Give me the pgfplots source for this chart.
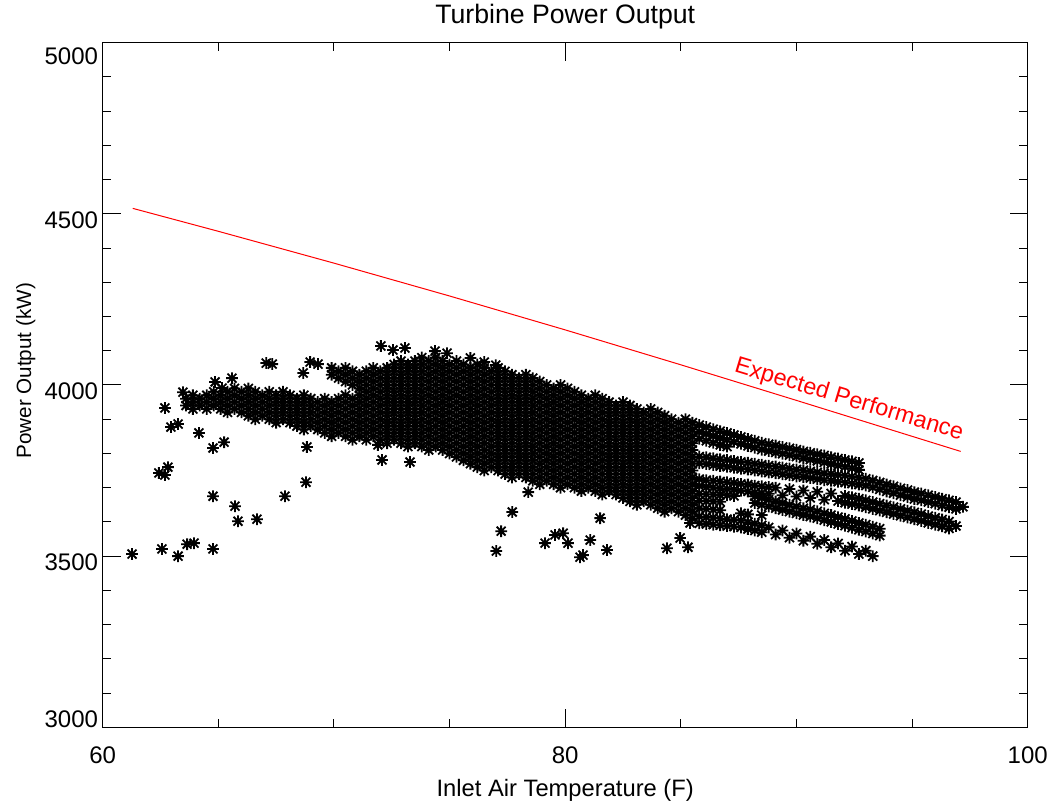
\documentclass[border=0pt]{standalone}
\usepackage{pgfplots}
\pgfplotsset{compat=1.18}
\usepackage{fontspec}
\setmainfont{Liberation Sans}
\pgfdeclareplotmark{idlstar}{%
  \pgfpathmoveto{\pgfqpoint{0pt}{\pgfplotmarksize}}%
  \pgfpathlineto{\pgfqpoint{0pt}{-\pgfplotmarksize}}%
  \pgfpathmoveto{\pgfqpoint{\pgfplotmarksize}{0pt}}%
  \pgfpathlineto{\pgfqpoint{-\pgfplotmarksize}{0pt}}%
  \pgfpathmoveto{\pgfqpoint{0.76\pgfplotmarksize}{0.76\pgfplotmarksize}}%
  \pgfpathlineto{\pgfqpoint{-0.76\pgfplotmarksize}{-0.76\pgfplotmarksize}}%
  \pgfpathmoveto{\pgfqpoint{-0.76\pgfplotmarksize}{0.76\pgfplotmarksize}}%
  \pgfpathlineto{\pgfqpoint{0.76\pgfplotmarksize}{-0.76\pgfplotmarksize}}%
  \pgfusepathqstroke}
\pgfplotsset{idl/.style={only marks, mark=idlstar, mark size=4.4pt, mark options={line width=1.35pt, draw=black}}}
\begin{document}
\begin{tikzpicture}
\useasboundingbox (-77.03pt,-59.03pt) rectangle (713.48pt,545.48pt);
\begin{axis}[
  at={(0pt,0pt)}, anchor=south west,
  scale only axis, width=693.75pt, height=513.45pt,
  xmin=60, xmax=100, ymin=3000, ymax=5000,
  xtick={60,80,100}, xticklabels={60,80,100},
  minor xtick={65,70,75,85,90,95},
  ytick={3000,3500,4000,4500,5000},
  yticklabels={{\raisebox{0pt}[0pt][0pt]{3000}},{\raisebox{-10.7pt}[0pt][0pt]{3500}},{\raisebox{-10.7pt}[0pt][0pt]{4000}},{\raisebox{-10.7pt}[0pt][0pt]{4500}},{\raisebox{-16.7pt}[0pt][0pt]{5000}}},
  minor ytick={3100,3200,3300,3400,3600,3700,3800,3900,4100,4200,4300,4400,4600,4700,4800,4900},
  tick pos=both, ticklabel pos=left, tick align=inside,
  major tick length=13.5pt, minor tick length=6.5pt,
  every tick/.append style={black, line width=0.75pt},
  every minor tick/.append style={black, line width=0.75pt},
  axis line style={black, line width=0.75pt},
  ticklabel style={font=\fontsize{18}{20}\selectfont},
  xticklabel style={anchor=north, inner sep=0pt, yshift=-14.5pt},
  yticklabel style={anchor=east, inner sep=0pt, xshift=-3.3pt},
  title={Turbine Power Output},
  title style={at={(axis description cs:0.5,1.016)}, anchor=base, inner sep=0pt, font=\fontsize{20}{24}\selectfont},
  xlabel={Inlet Air Temperature (F)},
  xlabel style={at={(axis description cs:0.5,-0.1013)}, anchor=base, inner sep=0pt, font=\fontsize{17.8}{20}\selectfont},
  ylabel={Power Output (kW)},
  ylabel style={at={(axis description cs:-0.0775,0.5207)}, anchor=base, inner sep=0pt, font=\fontsize{15.5}{18}\selectfont},
]
% main dense cloud
\addplot[idl] table[row sep=\\] {
x y\\
63.6 3960\\ 63.6 3940\\
63.9 3970\\ 63.9 3950\\ 63.9 3930\\
64.2 3960\\ 64.2 3940\\
64.5 3970\\ 64.5 3950\\ 64.5 3930\\
64.8 3980\\ 64.8 3960\\ 64.8 3940\\
65.1 3970\\ 65.1 3950\\ 65.1 3930\\
65.4 3980\\ 65.4 3960\\ 65.4 3940\\ 65.4 3920\\
65.7 3990\\ 65.7 3970\\ 65.7 3950\\ 65.7 3930\\
66.0 3980\\ 66.0 3960\\ 66.0 3940\\ 66.0 3920\\
66.3 3990\\ 66.3 3970\\ 66.3 3950\\ 66.3 3930\\ 66.3 3910\\
66.6 3980\\ 66.6 3960\\ 66.6 3940\\ 66.6 3920\\ 66.6 3900\\
66.9 3970\\ 66.9 3950\\ 66.9 3930\\ 66.9 3910\\
67.2 3980\\ 67.2 3960\\ 67.2 3940\\ 67.2 3920\\ 67.2 3900\\
67.5 3970\\ 67.5 3950\\ 67.5 3930\\ 67.5 3910\\ 67.5 3890\\
67.8 3980\\ 67.8 3960\\ 67.8 3940\\ 67.8 3920\\ 67.8 3900\\
68.1 3970\\ 68.1 3950\\ 68.1 3930\\ 68.1 3910\\ 68.1 3890\\
68.4 3960\\ 68.4 3940\\ 68.4 3920\\ 68.4 3900\\ 68.4 3880\\
68.7 3970\\ 68.7 3950\\ 68.7 3930\\ 68.7 3910\\ 68.7 3890\\ 68.7 3870\\
69.0 3960\\ 69.0 3940\\ 69.0 3920\\ 69.0 3900\\ 69.0 3880\\
69.3 3950\\ 69.3 3930\\ 69.3 3910\\ 69.3 3890\\ 69.3 3870\\
69.6 3960\\ 69.6 3940\\ 69.6 3920\\ 69.6 3900\\ 69.6 3880\\ 69.6 3860\\
69.9 4050\\ 69.9 4030\\ 69.9 3950\\ 69.9 3930\\ 69.9 3910\\ 69.9 3890\\ 69.9 3870\\ 69.9 3850\\
70.2 4040\\ 70.2 4020\\ 70.2 3960\\ 70.2 3940\\ 70.2 3920\\ 70.2 3900\\ 70.2 3880\\ 70.2 3860\\
70.5 4050\\ 70.5 4030\\ 70.5 4010\\ 70.5 3970\\ 70.5 3950\\ 70.5 3930\\ 70.5 3910\\ 70.5 3890\\ 70.5 3870\\ 70.5 3850\\
70.8 4040\\ 70.8 4020\\ 70.8 4000\\ 70.8 3960\\ 70.8 3940\\ 70.8 3920\\ 70.8 3900\\ 70.8 3880\\ 70.8 3860\\ 70.8 3840\\
71.1 4030\\ 71.1 4010\\ 71.1 3990\\ 71.1 3970\\ 71.1 3950\\ 71.1 3930\\ 71.1 3910\\ 71.1 3890\\ 71.1 3870\\ 71.1 3850\\
71.4 4040\\ 71.4 4020\\ 71.4 4000\\ 71.4 3980\\ 71.4 3960\\ 71.4 3940\\ 71.4 3920\\ 71.4 3900\\ 71.4 3880\\ 71.4 3860\\ 71.4 3840\\
71.7 4050\\ 71.7 4030\\ 71.7 4010\\ 71.7 3990\\ 71.7 3970\\ 71.7 3950\\ 71.7 3930\\ 71.7 3910\\ 71.7 3890\\ 71.7 3870\\ 71.7 3850\\
72.0 4040\\ 72.0 4020\\ 72.0 4000\\ 72.0 3980\\ 72.0 3960\\ 72.0 3940\\ 72.0 3920\\ 72.0 3900\\ 72.0 3880\\ 72.0 3860\\ 72.0 3840\\
72.3 4050\\ 72.3 4030\\ 72.3 4010\\ 72.3 3990\\ 72.3 3970\\ 72.3 3950\\ 72.3 3930\\ 72.3 3910\\ 72.3 3890\\ 72.3 3870\\ 72.3 3850\\ 72.3 3830\\
72.6 4060\\ 72.6 4040\\ 72.6 4020\\ 72.6 4000\\ 72.6 3980\\ 72.6 3960\\ 72.6 3940\\ 72.6 3920\\ 72.6 3900\\ 72.6 3880\\ 72.6 3860\\ 72.6 3840\\
72.9 4070\\ 72.9 4050\\ 72.9 4030\\ 72.9 4010\\ 72.9 3990\\ 72.9 3970\\ 72.9 3950\\ 72.9 3930\\ 72.9 3910\\ 72.9 3890\\ 72.9 3870\\ 72.9 3850\\ 72.9 3830\\
73.2 4060\\ 73.2 4040\\ 73.2 4020\\ 73.2 4000\\ 73.2 3980\\ 73.2 3960\\ 73.2 3940\\ 73.2 3920\\ 73.2 3900\\ 73.2 3880\\ 73.2 3860\\ 73.2 3840\\ 73.2 3820\\
73.5 4070\\ 73.5 4050\\ 73.5 4030\\ 73.5 4010\\ 73.5 3990\\ 73.5 3970\\ 73.5 3950\\ 73.5 3930\\ 73.5 3910\\ 73.5 3890\\ 73.5 3870\\ 73.5 3850\\ 73.5 3830\\
73.8 4080\\ 73.8 4060\\ 73.8 4040\\ 73.8 4020\\ 73.8 4000\\ 73.8 3980\\ 73.8 3960\\ 73.8 3940\\ 73.8 3920\\ 73.8 3900\\ 73.8 3880\\ 73.8 3860\\ 73.8 3840\\ 73.8 3820\\
74.1 4070\\ 74.1 4050\\ 74.1 4030\\ 74.1 4010\\ 74.1 3990\\ 74.1 3970\\ 74.1 3950\\ 74.1 3930\\ 74.1 3910\\ 74.1 3890\\ 74.1 3870\\ 74.1 3850\\ 74.1 3830\\ 74.1 3810\\
74.4 4080\\ 74.4 4060\\ 74.4 4040\\ 74.4 4020\\ 74.4 4000\\ 74.4 3980\\ 74.4 3960\\ 74.4 3940\\ 74.4 3920\\ 74.4 3900\\ 74.4 3880\\ 74.4 3860\\ 74.4 3840\\ 74.4 3820\\
74.7 4070\\ 74.7 4050\\ 74.7 4030\\ 74.7 4010\\ 74.7 3990\\ 74.7 3970\\ 74.7 3950\\ 74.7 3930\\ 74.7 3910\\ 74.7 3890\\ 74.7 3870\\ 74.7 3850\\ 74.7 3830\\ 74.7 3810\\
75.0 4060\\ 75.0 4040\\ 75.0 4020\\ 75.0 4000\\ 75.0 3980\\ 75.0 3960\\ 75.0 3940\\ 75.0 3920\\ 75.0 3900\\ 75.0 3880\\ 75.0 3860\\ 75.0 3840\\ 75.0 3820\\ 75.0 3800\\
75.3 4070\\ 75.3 4050\\ 75.3 4030\\ 75.3 4010\\ 75.3 3990\\ 75.3 3970\\ 75.3 3950\\ 75.3 3930\\ 75.3 3910\\ 75.3 3890\\ 75.3 3870\\ 75.3 3850\\ 75.3 3830\\ 75.3 3810\\ 75.3 3790\\
75.6 4060\\ 75.6 4040\\ 75.6 4020\\ 75.6 4000\\ 75.6 3980\\ 75.6 3960\\ 75.6 3940\\ 75.6 3920\\ 75.6 3900\\ 75.6 3880\\ 75.6 3860\\ 75.6 3840\\ 75.6 3820\\ 75.6 3800\\ 75.6 3780\\
75.9 4050\\ 75.9 4030\\ 75.9 4010\\ 75.9 3990\\ 75.9 3970\\ 75.9 3950\\ 75.9 3930\\ 75.9 3910\\ 75.9 3890\\ 75.9 3870\\ 75.9 3850\\ 75.9 3830\\ 75.9 3810\\ 75.9 3790\\ 75.9 3770\\
76.2 4060\\ 76.2 4040\\ 76.2 4020\\ 76.2 4000\\ 76.2 3980\\ 76.2 3960\\ 76.2 3940\\ 76.2 3920\\ 76.2 3900\\ 76.2 3880\\ 76.2 3860\\ 76.2 3840\\ 76.2 3820\\ 76.2 3800\\ 76.2 3780\\ 76.2 3760\\
76.5 4050\\ 76.5 4030\\ 76.5 4010\\ 76.5 3990\\ 76.5 3970\\ 76.5 3950\\ 76.5 3930\\ 76.5 3910\\ 76.5 3890\\ 76.5 3870\\ 76.5 3850\\ 76.5 3830\\ 76.5 3810\\ 76.5 3790\\ 76.5 3770\\ 76.5 3750\\
76.8 4040\\ 76.8 4020\\ 76.8 4000\\ 76.8 3980\\ 76.8 3960\\ 76.8 3940\\ 76.8 3920\\ 76.8 3900\\ 76.8 3880\\ 76.8 3860\\ 76.8 3840\\ 76.8 3820\\ 76.8 3800\\ 76.8 3780\\ 76.8 3760\\
77.1 4050\\ 77.1 4030\\ 77.1 4010\\ 77.1 3990\\ 77.1 3970\\ 77.1 3950\\ 77.1 3930\\ 77.1 3910\\ 77.1 3890\\ 77.1 3870\\ 77.1 3850\\ 77.1 3830\\ 77.1 3810\\ 77.1 3790\\ 77.1 3770\\ 77.1 3750\\
77.4 4040\\ 77.4 4020\\ 77.4 4000\\ 77.4 3980\\ 77.4 3960\\ 77.4 3940\\ 77.4 3920\\ 77.4 3900\\ 77.4 3880\\ 77.4 3860\\ 77.4 3840\\ 77.4 3820\\ 77.4 3800\\ 77.4 3780\\ 77.4 3760\\ 77.4 3740\\
77.7 4030\\ 77.7 4010\\ 77.7 3990\\ 77.7 3970\\ 77.7 3950\\ 77.7 3930\\ 77.7 3910\\ 77.7 3890\\ 77.7 3870\\ 77.7 3850\\ 77.7 3830\\ 77.7 3810\\ 77.7 3790\\ 77.7 3770\\ 77.7 3750\\ 77.7 3730\\
78.0 4020\\ 78.0 4000\\ 78.0 3980\\ 78.0 3960\\ 78.0 3940\\ 78.0 3920\\ 78.0 3900\\ 78.0 3880\\ 78.0 3860\\ 78.0 3840\\ 78.0 3820\\ 78.0 3800\\ 78.0 3780\\ 78.0 3760\\ 78.0 3740\\
78.3 4030\\ 78.3 4010\\ 78.3 3990\\ 78.3 3970\\ 78.3 3950\\ 78.3 3930\\ 78.3 3910\\ 78.3 3890\\ 78.3 3870\\ 78.3 3850\\ 78.3 3830\\ 78.3 3810\\ 78.3 3790\\ 78.3 3770\\ 78.3 3750\\ 78.3 3730\\
78.6 4020\\ 78.6 4000\\ 78.6 3980\\ 78.6 3960\\ 78.6 3940\\ 78.6 3920\\ 78.6 3900\\ 78.6 3880\\ 78.6 3860\\ 78.6 3840\\ 78.6 3820\\ 78.6 3800\\ 78.6 3780\\ 78.6 3760\\ 78.6 3740\\ 78.6 3720\\
78.9 4010\\ 78.9 3990\\ 78.9 3970\\ 78.9 3950\\ 78.9 3930\\ 78.9 3910\\ 78.9 3890\\ 78.9 3870\\ 78.9 3850\\ 78.9 3830\\ 78.9 3810\\ 78.9 3790\\ 78.9 3770\\ 78.9 3750\\ 78.9 3730\\ 78.9 3710\\
79.2 4000\\ 79.2 3980\\ 79.2 3960\\ 79.2 3940\\ 79.2 3920\\ 79.2 3900\\ 79.2 3880\\ 79.2 3860\\ 79.2 3840\\ 79.2 3820\\ 79.2 3800\\ 79.2 3780\\ 79.2 3760\\ 79.2 3740\\ 79.2 3720\\
79.5 3990\\ 79.5 3970\\ 79.5 3950\\ 79.5 3930\\ 79.5 3910\\ 79.5 3890\\ 79.5 3870\\ 79.5 3850\\ 79.5 3830\\ 79.5 3810\\ 79.5 3790\\ 79.5 3770\\ 79.5 3750\\ 79.5 3730\\ 79.5 3710\\
79.8 4000\\ 79.8 3980\\ 79.8 3960\\ 79.8 3940\\ 79.8 3920\\ 79.8 3900\\ 79.8 3880\\ 79.8 3860\\ 79.8 3840\\ 79.8 3820\\ 79.8 3800\\ 79.8 3780\\ 79.8 3760\\ 79.8 3740\\ 79.8 3720\\ 79.8 3700\\
80.1 3990\\ 80.1 3970\\ 80.1 3950\\ 80.1 3930\\ 80.1 3910\\ 80.1 3890\\ 80.1 3870\\ 80.1 3850\\ 80.1 3830\\ 80.1 3810\\ 80.1 3790\\ 80.1 3770\\ 80.1 3750\\ 80.1 3730\\ 80.1 3710\\
80.4 3980\\ 80.4 3960\\ 80.4 3940\\ 80.4 3920\\ 80.4 3900\\ 80.4 3880\\ 80.4 3860\\ 80.4 3840\\ 80.4 3820\\ 80.4 3800\\ 80.4 3780\\ 80.4 3760\\ 80.4 3740\\ 80.4 3720\\ 80.4 3700\\
80.7 3970\\ 80.7 3950\\ 80.7 3930\\ 80.7 3910\\ 80.7 3890\\ 80.7 3870\\ 80.7 3850\\ 80.7 3830\\ 80.7 3810\\ 80.7 3790\\ 80.7 3770\\ 80.7 3750\\ 80.7 3730\\ 80.7 3710\\ 80.7 3690\\
81.0 3960\\ 81.0 3940\\ 81.0 3920\\ 81.0 3900\\ 81.0 3880\\ 81.0 3860\\ 81.0 3840\\ 81.0 3820\\ 81.0 3800\\ 81.0 3780\\ 81.0 3760\\ 81.0 3740\\ 81.0 3720\\ 81.0 3700\\
81.3 3970\\ 81.3 3950\\ 81.3 3930\\ 81.3 3910\\ 81.3 3890\\ 81.3 3870\\ 81.3 3850\\ 81.3 3830\\ 81.3 3810\\ 81.3 3790\\ 81.3 3770\\ 81.3 3750\\ 81.3 3730\\ 81.3 3710\\ 81.3 3690\\
81.6 3960\\ 81.6 3940\\ 81.6 3920\\ 81.6 3900\\ 81.6 3880\\ 81.6 3860\\ 81.6 3840\\ 81.6 3820\\ 81.6 3800\\ 81.6 3780\\ 81.6 3760\\ 81.6 3740\\ 81.6 3720\\ 81.6 3700\\ 81.6 3680\\
81.9 3950\\ 81.9 3930\\ 81.9 3910\\ 81.9 3890\\ 81.9 3870\\ 81.9 3850\\ 81.9 3830\\ 81.9 3810\\ 81.9 3790\\ 81.9 3770\\ 81.9 3750\\ 81.9 3730\\ 81.9 3710\\ 81.9 3690\\
82.2 3940\\ 82.2 3920\\ 82.2 3900\\ 82.2 3880\\ 82.2 3860\\ 82.2 3840\\ 82.2 3820\\ 82.2 3800\\ 82.2 3780\\ 82.2 3760\\ 82.2 3740\\ 82.2 3720\\ 82.2 3700\\ 82.2 3680\\
82.5 3950\\ 82.5 3930\\ 82.5 3910\\ 82.5 3890\\ 82.5 3870\\ 82.5 3850\\ 82.5 3830\\ 82.5 3810\\ 82.5 3790\\ 82.5 3770\\ 82.5 3750\\ 82.5 3730\\ 82.5 3710\\ 82.5 3690\\ 82.5 3670\\
82.8 3940\\ 82.8 3920\\ 82.8 3900\\ 82.8 3880\\ 82.8 3860\\ 82.8 3840\\ 82.8 3820\\ 82.8 3800\\ 82.8 3780\\ 82.8 3760\\ 82.8 3740\\ 82.8 3720\\ 82.8 3700\\ 82.8 3680\\ 82.8 3660\\
83.1 3930\\ 83.1 3910\\ 83.1 3890\\ 83.1 3870\\ 83.1 3850\\ 83.1 3830\\ 83.1 3810\\ 83.1 3790\\ 83.1 3770\\ 83.1 3750\\ 83.1 3730\\ 83.1 3710\\ 83.1 3690\\ 83.1 3670\\ 83.1 3650\\
83.4 3920\\ 83.4 3900\\ 83.4 3880\\ 83.4 3860\\ 83.4 3840\\ 83.4 3820\\ 83.4 3800\\ 83.4 3780\\ 83.4 3760\\ 83.4 3740\\ 83.4 3720\\ 83.4 3700\\ 83.4 3680\\ 83.4 3660\\
83.7 3930\\ 83.7 3910\\ 83.7 3890\\ 83.7 3870\\ 83.7 3850\\ 83.7 3830\\ 83.7 3810\\ 83.7 3790\\ 83.7 3770\\ 83.7 3750\\ 83.7 3730\\ 83.7 3710\\ 83.7 3690\\ 83.7 3670\\ 83.7 3650\\
84.0 3920\\ 84.0 3900\\ 84.0 3880\\ 84.0 3860\\ 84.0 3840\\ 84.0 3820\\ 84.0 3800\\ 84.0 3780\\ 84.0 3760\\ 84.0 3740\\ 84.0 3720\\ 84.0 3700\\ 84.0 3680\\ 84.0 3660\\ 84.0 3640\\
84.3 3910\\ 84.3 3890\\ 84.3 3870\\ 84.3 3850\\ 84.3 3830\\ 84.3 3810\\ 84.3 3790\\ 84.3 3770\\ 84.3 3750\\ 84.3 3730\\ 84.3 3710\\ 84.3 3690\\ 84.3 3670\\ 84.3 3650\\ 84.3 3630\\
84.6 3900\\ 84.6 3880\\ 84.6 3860\\ 84.6 3840\\ 84.6 3820\\ 84.6 3800\\ 84.6 3780\\ 84.6 3760\\ 84.6 3740\\ 84.6 3720\\ 84.6 3700\\ 84.6 3680\\ 84.6 3660\\ 84.6 3640\\
84.9 3890\\ 84.9 3870\\ 84.9 3850\\ 84.9 3830\\ 84.9 3810\\ 84.9 3790\\ 84.9 3770\\ 84.9 3750\\ 84.9 3730\\ 84.9 3710\\ 84.9 3690\\ 84.9 3670\\ 84.9 3650\\ 84.9 3630\\
85.2 3900\\ 85.2 3880\\ 85.2 3860\\ 85.2 3840\\ 85.2 3820\\ 85.2 3800\\ 85.2 3780\\ 85.2 3760\\ 85.2 3740\\ 85.2 3720\\ 85.2 3700\\ 85.2 3680\\ 85.2 3660\\ 85.2 3640\\ 85.2 3620\\
85.5 3890\\ 85.5 3870\\ 85.5 3850\\ 85.5 3830\\ 85.5 3810\\ 85.5 3790\\ 85.5 3770\\ 85.5 3750\\ 85.5 3730\\ 85.5 3710\\ 85.5 3690\\ 85.5 3670\\ 85.5 3650\\ 85.5 3630\\ 85.5 3610\\
};
% right-hand streaks
\addplot[idl] table[row sep=\\] {
x y\\
85.8 3883\\ 85.8 3863\\ 85.8 3843\\ 85.8 3791\\ 85.8 3771\\ 85.8 3725\\ 85.8 3705\\ 85.8 3682\\ 85.8 3662\\ 85.8 3640\\ 85.8 3616\\ 85.8 3596\\
86.1 3877\\ 86.1 3857\\ 86.1 3837\\ 86.1 3789\\ 86.1 3769\\ 86.1 3722\\ 86.1 3702\\ 86.1 3681\\ 86.1 3661\\ 86.1 3638\\ 86.1 3614\\ 86.1 3594\\
86.4 3871\\ 86.4 3851\\ 86.4 3831\\ 86.4 3786\\ 86.4 3766\\ 86.4 3720\\ 86.4 3700\\ 86.4 3680\\ 86.4 3660\\ 86.4 3636\\ 86.4 3612\\ 86.4 3592\\
86.7 3865\\ 86.7 3845\\ 86.7 3825\\ 86.7 3783\\ 86.7 3763\\ 86.7 3718\\ 86.7 3698\\ 86.7 3679\\ 86.7 3659\\ 86.7 3634\\ 86.7 3610\\ 86.7 3590\\
87.0 3860\\ 87.0 3840\\ 87.0 3820\\ 87.0 3781\\ 87.0 3761\\ 87.0 3716\\ 87.0 3696\\ 87.0 3678\\ 87.0 3608\\ 87.0 3588\\
87.3 3854\\ 87.3 3834\\ 87.3 3778\\ 87.3 3758\\ 87.3 3714\\ 87.3 3694\\ 87.3 3676\\ 87.3 3606\\ 87.3 3586\\
87.6 3848\\ 87.6 3828\\ 87.6 3775\\ 87.6 3755\\ 87.6 3711\\ 87.6 3691\\ 87.6 3625\\ 87.6 3604\\ 87.6 3584\\
87.9 3842\\ 87.9 3822\\ 87.9 3773\\ 87.9 3753\\ 87.9 3709\\ 87.9 3689\\ 87.9 3622\\ 87.9 3599\\ 87.9 3579\\
88.2 3837\\ 88.2 3817\\ 88.2 3770\\ 88.2 3750\\ 88.2 3706\\ 88.2 3686\\ 88.2 3675\\ 88.2 3655\\ 88.2 3595\\ 88.2 3575\\
88.5 3831\\ 88.5 3811\\ 88.5 3767\\ 88.5 3747\\ 88.5 3704\\ 88.5 3684\\ 88.5 3670\\ 88.5 3650\\ 88.5 3620\\ 88.5 3590\\ 88.5 3570\\
88.8 3827\\ 88.8 3807\\ 88.8 3764\\ 88.8 3744\\ 88.8 3702\\ 88.8 3682\\ 88.8 3665\\ 88.8 3645\\ 88.8 3584\\
89.1 3823\\ 89.1 3803\\ 89.1 3762\\ 89.1 3742\\ 89.1 3700\\ 89.1 3660\\ 89.1 3640\\ 89.1 3563\\
89.4 3819\\ 89.4 3799\\ 89.4 3759\\ 89.4 3739\\ 89.4 3678\\ 89.4 3655\\ 89.4 3635\\ 89.4 3575\\
89.7 3815\\ 89.7 3795\\ 89.7 3756\\ 89.7 3736\\ 89.7 3696\\ 89.7 3650\\ 89.7 3630\\ 89.7 3554\\
90.0 3811\\ 90.0 3791\\ 90.0 3753\\ 90.0 3733\\ 90.0 3674\\ 90.0 3645\\ 90.0 3625\\ 90.0 3566\\
90.3 3806\\ 90.3 3786\\ 90.3 3751\\ 90.3 3731\\ 90.3 3692\\ 90.3 3640\\ 90.3 3620\\ 90.3 3545\\
90.6 3802\\ 90.6 3782\\ 90.6 3748\\ 90.6 3728\\ 90.6 3670\\ 90.6 3636\\ 90.6 3616\\ 90.6 3557\\
90.9 3798\\ 90.9 3778\\ 90.9 3745\\ 90.9 3725\\ 90.9 3688\\ 90.9 3631\\ 90.9 3611\\ 90.9 3536\\
91.2 3794\\ 91.2 3774\\ 91.2 3742\\ 91.2 3722\\ 91.2 3665\\ 91.2 3625\\ 91.2 3605\\ 91.2 3547\\
91.5 3789\\ 91.5 3769\\ 91.5 3740\\ 91.5 3720\\ 91.5 3683\\ 91.5 3620\\ 91.5 3600\\ 91.5 3526\\
91.8 3785\\ 91.8 3765\\ 91.8 3737\\ 91.8 3717\\ 91.8 3661\\ 91.8 3614\\ 91.8 3594\\ 91.8 3537\\
92.1 3781\\ 92.1 3761\\ 92.1 3735\\ 92.1 3715\\ 92.1 3676\\ 92.1 3656\\ 92.1 3609\\ 92.1 3589\\ 92.1 3516\\
92.4 3777\\ 92.4 3757\\ 92.4 3732\\ 92.4 3712\\ 92.4 3672\\ 92.4 3652\\ 92.4 3603\\ 92.4 3583\\ 92.4 3528\\
92.7 3772\\ 92.7 3752\\ 92.7 3729\\ 92.7 3709\\ 92.7 3668\\ 92.7 3648\\ 92.7 3597\\ 92.7 3577\\ 92.7 3506\\
93.0 3726\\ 93.0 3706\\ 93.0 3663\\ 93.0 3643\\ 93.0 3592\\ 93.0 3572\\ 93.0 3516\\
93.3 3721\\ 93.3 3701\\ 93.3 3658\\ 93.3 3638\\ 93.3 3586\\ 93.3 3566\\ 93.3 3500\\
93.6 3715\\ 93.6 3695\\ 93.6 3653\\ 93.6 3633\\ 93.6 3580\\ 93.6 3560\\
93.9 3709\\ 93.9 3689\\ 93.9 3648\\ 93.9 3628\\
94.2 3704\\ 94.2 3684\\ 94.2 3643\\ 94.2 3623\\
94.5 3698\\ 94.5 3678\\ 94.5 3638\\ 94.5 3618\\
94.8 3693\\ 94.8 3673\\ 94.8 3633\\ 94.8 3613\\
95.1 3687\\ 95.1 3667\\ 95.1 3628\\ 95.1 3608\\
95.4 3683\\ 95.4 3663\\ 95.4 3623\\ 95.4 3603\\
95.7 3678\\ 95.7 3658\\ 95.7 3617\\ 95.7 3597\\
96.0 3673\\ 96.0 3653\\ 96.0 3612\\ 96.0 3592\\
96.3 3668\\ 96.3 3648\\ 96.3 3607\\ 96.3 3587\\
96.6 3663\\ 96.6 3643\\ 96.6 3601\\ 96.6 3581\\
96.9 3658\\ 96.9 3638\\ 96.9 3588\\
97.2 3644\\
};
% scattered points
\addplot[idl] table[row sep=\\] {
x y\\
61.27 3506\\ 62.56 3521\\ 63.26 3500\\ 63.65 3535\\ 63.95 3538\\ 64.77 3521\\
64.77 3675\\ 65.72 3646\\ 65.85 3602\\ 66.67 3608\\ 67.88 3675\\ 68.79 3716\\
62.43 3743\\ 62.69 3737\\ 62.82 3760\\
62.69 3933\\ 62.95 3877\\ 63.26 3886\\ 64.16 3860\\ 64.77 3816\\ 65.25 3833\\
68.83 3819\\ 71.90 3825\\ 72.08 3781\\ 73.29 3775\\
63.47 3979\\ 64.86 4009\\ 65.59 4020\\ 65.16 3991\\
67.07 4064\\ 67.33 4061\\ 68.67 4035\\ 68.97 4067\\ 69.31 4061\\
72.03 4114\\ 72.55 4102\\ 73.07 4108\\ 74.37 4099\\ 74.89 4093\\
75.90 4079\\ 76.50 4067\\ 77.00 4058\\
78.40 3687\\ 77.71 3629\\ 77.23 3573\\ 77.02 3515\\
79.13 3538\\ 79.56 3562\\ 79.91 3567\\ 80.12 3538\\ 80.64 3497\\
81.51 3611\\ 81.08 3547\\ 80.77 3503\\ 81.81 3518\\
84.40 3523\\ 84.97 3553\\ 85.31 3526\\ 85.40 3597\\
};
% expected performance
\addplot[red, line width=0.75pt] coordinates {(61.3,4516) (65,4449) (70,4356) (75,4260) (80,4161) (85,4059) (90,3955) (97.1,3806)};
\node[red, rotate=-16.8, inner sep=0pt, font=\fontsize{17.5}{20}\selectfont] at (axis cs:92.27,3956) {Expected Performance};
\end{axis}
\end{tikzpicture}
\end{document}
